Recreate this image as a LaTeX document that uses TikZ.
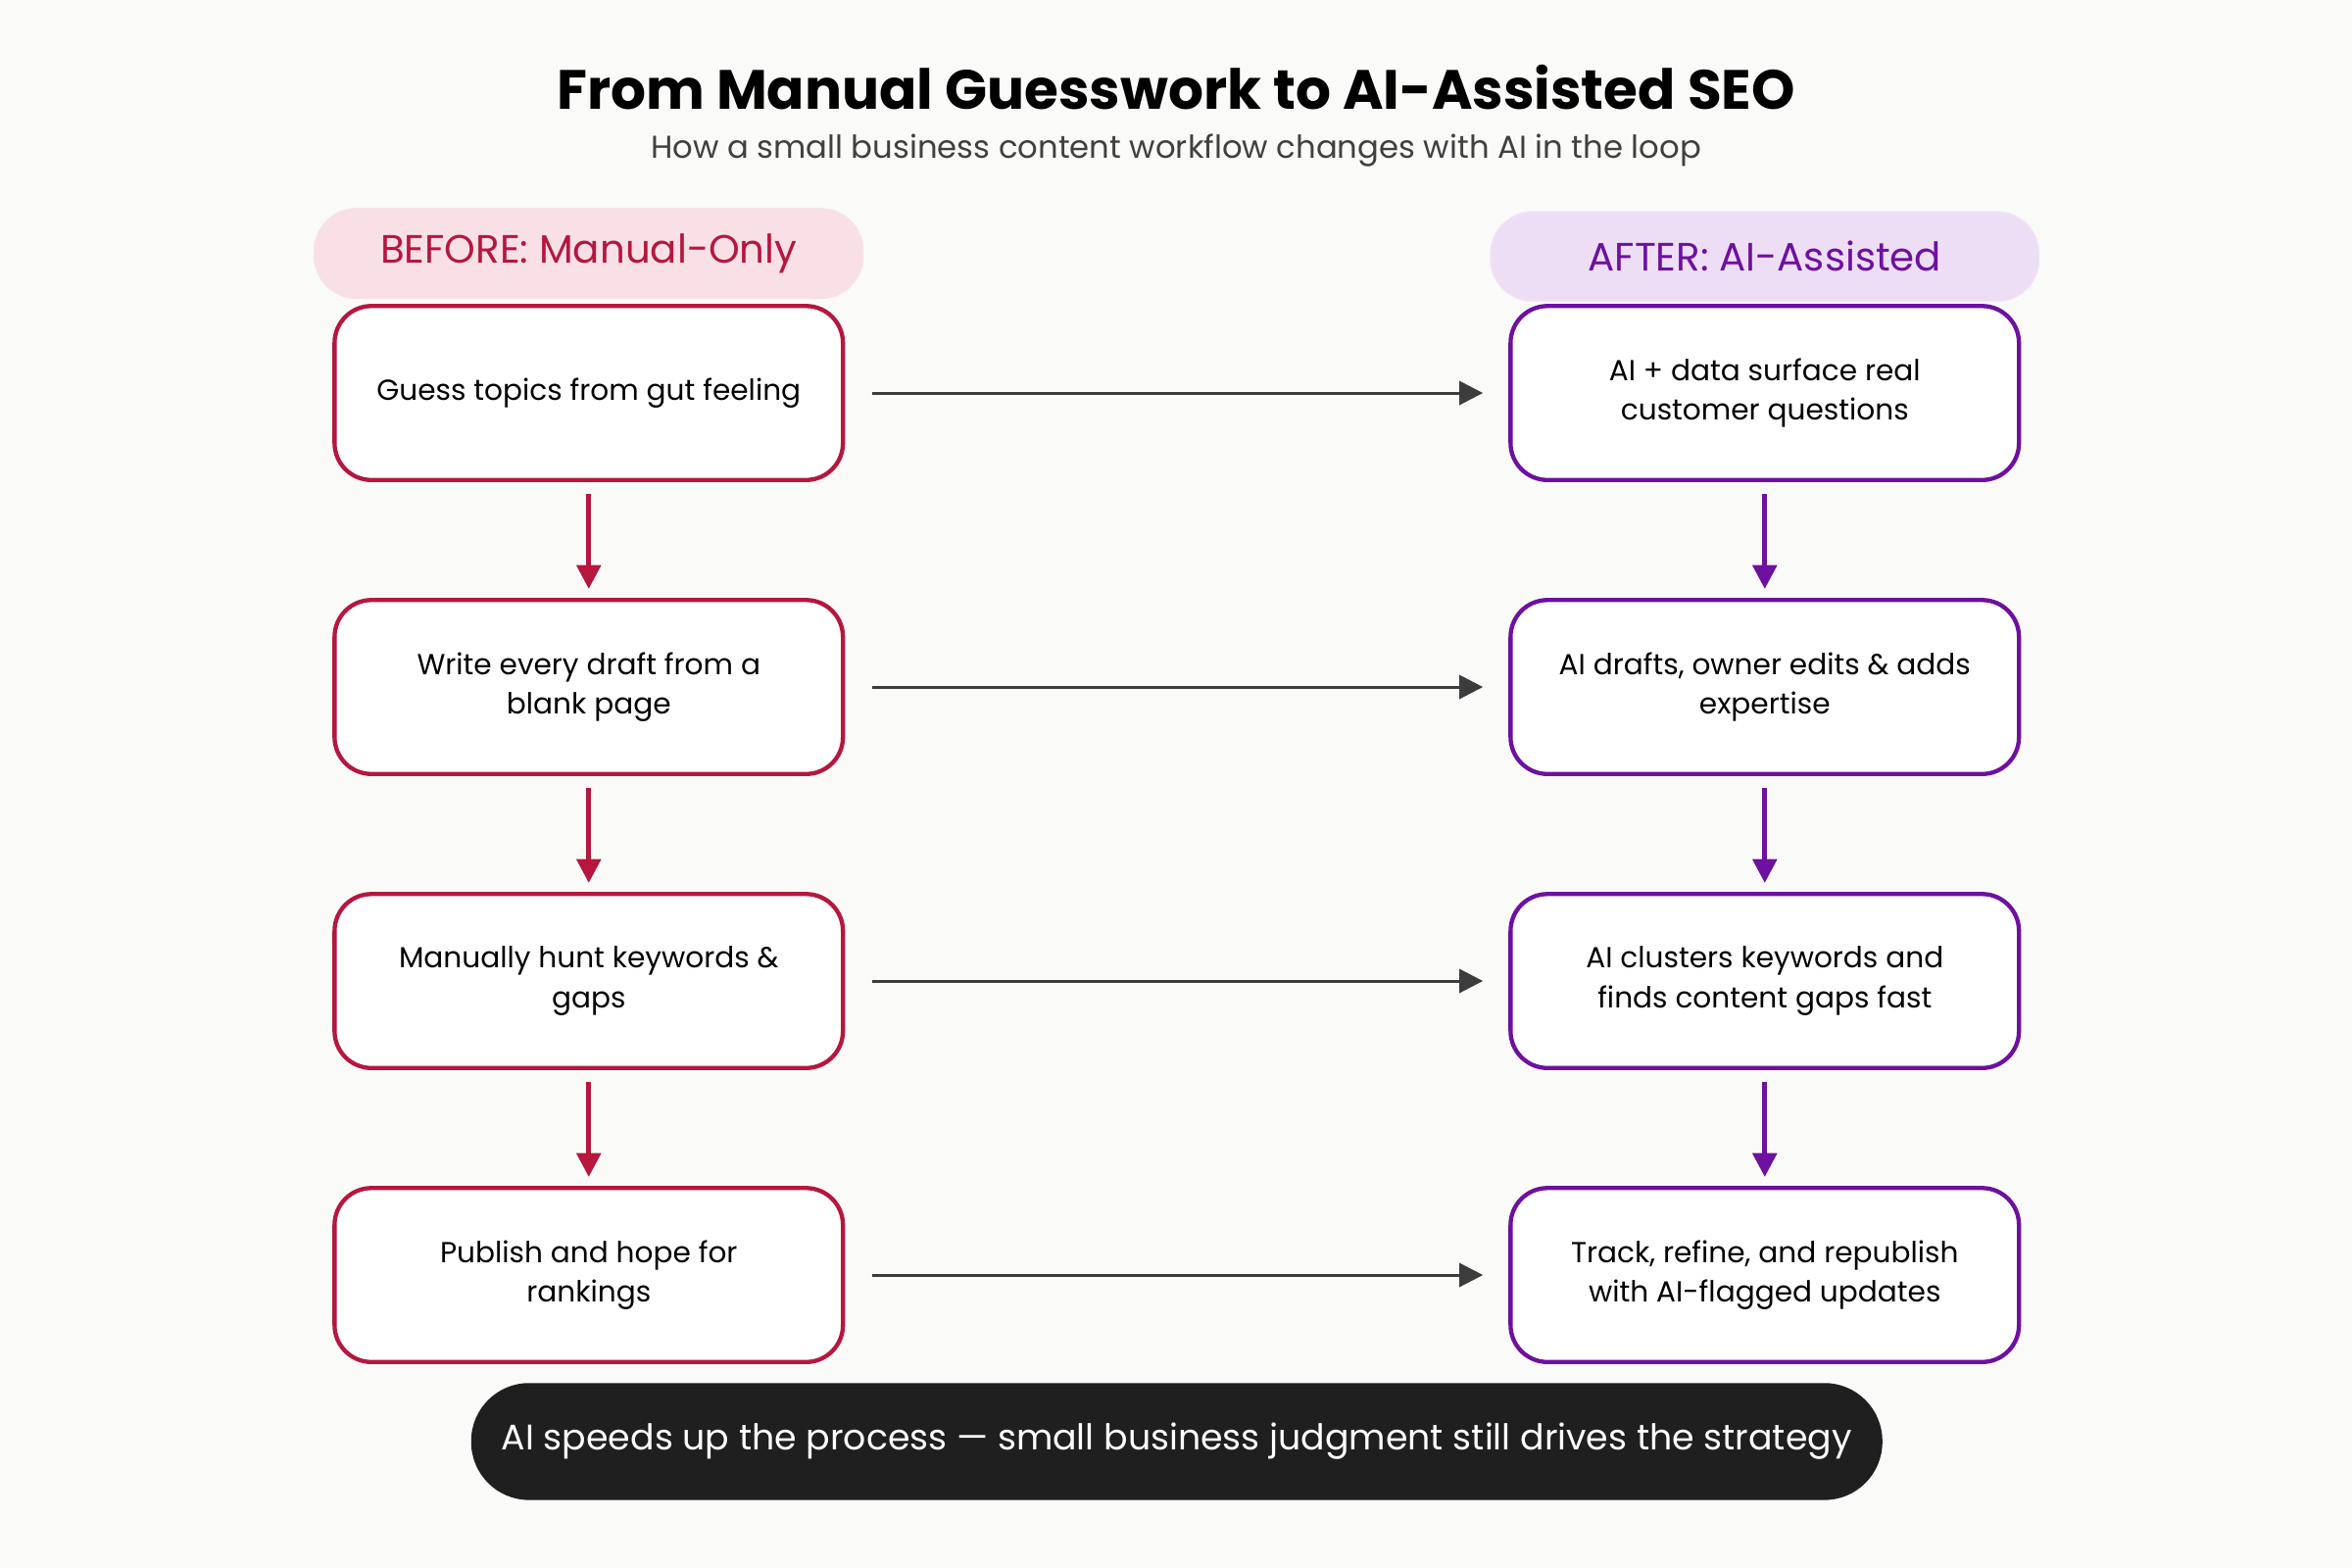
\documentclass[tikz,border=0pt]{standalone}
\usepackage{fontspec}
\setmainfont{Poppins}
\usetikzlibrary{arrows.meta, positioning}
\definecolor{beforered}{RGB}{181,23,63}
\definecolor{afterpurple}{RGB}{110,16,160}
\definecolor{beforefill}{RGB}{248,224,230}
\definecolor{afterfill}{RGB}{238,222,245}
\definecolor{paperbg}{RGB}{250,250,248}
\definecolor{linkgray}{RGB}{60,60,60}
\tikzset{
  stepbox/.style={draw, line width=1.6pt, rounded corners=14pt, fill=white,
    minimum width=6.78cm, minimum height=2.32cm, align=center,
    font=\fontsize{11}{15}\selectfont},
  header/.style={rounded corners=16pt, minimum width=7.32cm, minimum height=1.2cm,
    font=\fontsize{15}{18}\selectfont},
  down/.style={-{Triangle[length=9pt,width=9pt]}, line width=1.8pt},
  across/.style={-{Triangle[length=9pt,width=9pt]}, line width=1.1pt, linkgray, shorten <=0.36cm, shorten >=0.34cm}
}
\begin{document}
\begin{tikzpicture}[x=0.02cm, y=-0.02cm]
    \fill[paperbg] (0,0) rectangle (1568,1045);
    \useasboundingbox (0,0) rectangle (1568,1045);

    % Title
    \node[font=\bfseries\fontsize{21}{25}\selectfont] (title) at (784,58) {From Manual Guesswork to AI-Assisted SEO};
    \node[font=\fontsize{12}{14}\selectfont, text=black!75] (subtitle) at (784,100) {How a small business content workflow changes with AI in the loop};

    % Column headers
    \node[header, fill=beforefill, draw=beforefill!80!beforered!40, text=beforered] (hbefore) at (392.5,169) {BEFORE: Manual-Only};
    \node[header, fill=afterfill, draw=afterfill!80!afterpurple!30, text=afterpurple] (hafter) at (1176.5,171) {AFTER: AI-Assisted};

    % Before column
    \node[stepbox, draw=beforered] (b1) at (392.5,262) {Guess topics from gut feeling};
    \node[stepbox, draw=beforered] (b2) at (392.5,458) {Write every draft from a\\blank page};
    \node[stepbox, draw=beforered] (b3) at (392.5,654) {Manually hunt keywords \&\\gaps};
    \node[stepbox, draw=beforered] (b4) at (392.5,850) {Publish and hope for\\rankings};

    % After column
    \node[stepbox, draw=afterpurple] (a1) at (1176.5,262) {AI + data surface real\\customer questions};
    \node[stepbox, draw=afterpurple] (a2) at (1176.5,458) {AI drafts, owner edits \& adds\\expertise};
    \node[stepbox, draw=afterpurple] (a3) at (1176.5,654) {AI clusters keywords and\\finds content gaps fast};
    \node[stepbox, draw=afterpurple] (a4) at (1176.5,850) {Track, refine, and republish\\with AI-flagged updates};

    % Before -> after links
    \foreach \k in {1,...,4}
        \draw[across] (b\k) -- (a\k);

    % Flow down each column
    \foreach \k/\j in {1/2, 2/3, 3/4} {
        \draw[down, beforered, shorten <=0.16cm, shorten >=0.12cm] (b\k) -- (b\j);
        \draw[down, afterpurple, shorten <=0.16cm, shorten >=0.12cm] (a\k) -- (a\j);
    }

    % Takeaway
    \node[fill=black!88, text=white, rounded corners=22pt, minimum width=18.82cm, minimum height=1.56cm,
      font=\fontsize{13.5}{16}\selectfont] (takeaway) at (784.5,961)
      {AI speeds up the process — small business judgment still drives the strategy};
\end{tikzpicture}
\end{document}
